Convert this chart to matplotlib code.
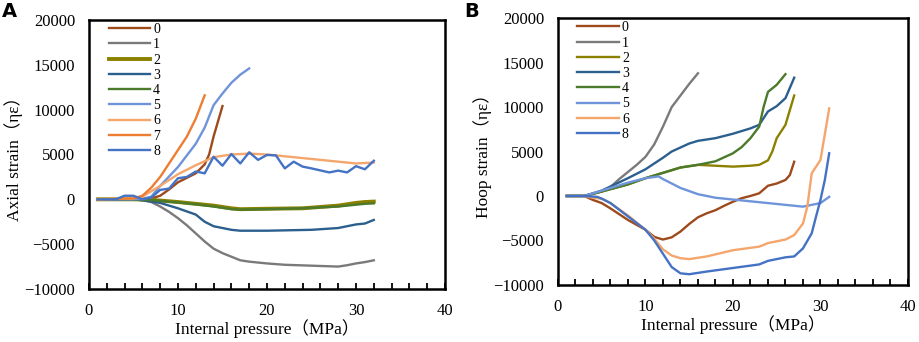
import matplotlib.pyplot as plt
from matplotlib.ticker import MultipleLocator

SERIF = ['Liberation Serif', 'Noto Sans CJK SC']

# Panel A - axial strain
a0_x = [1, 5, 6, 7, 8, 9, 10, 11, 12, 13, 13.5, 14, 14.5, 15]
a0_y = [0, 0, 0, 100, 400, 1100, 1900, 2400, 2900, 3900, 5000, 7000, 8700, 10400]
a1_x = [1, 5, 6, 7, 8, 9, 10, 11, 12, 13, 14, 15, 16, 17, 18, 20, 22, 25, 28, 29, 30, 31, 32]
a1_y = [0, 0, -100, -300, -800, -1400, -2100, -2900, -3800, -4700, -5500, -6000, -6400, -6800, -6950, -7150, -7300, -7400, -7500, -7350, -7150, -7000, -6800]
a2_x = [1, 5, 7, 10, 12, 14, 16, 17, 20, 24, 28, 30, 31, 32]
a2_y = [0, 0, -50, -300, -500, -700, -1000, -1100, -1050, -1000, -700, -400, -300, -250]
a3_x = [1, 5, 6, 8, 10, 12, 13, 14, 16, 17, 20, 25, 28, 30, 31, 32]
a3_y = [0, 0, -100, -400, -1000, -1700, -2500, -3000, -3400, -3500, -3500, -3400, -3200, -2800, -2700, -2300]
a4_x = [1, 5, 7, 10, 12, 14, 16, 17, 20, 24, 28, 30, 31, 32]
a4_y = [0, 0, -80, -350, -550, -800, -1100, -1150, -1100, -1000, -800, -600, -500, -450]
a5_x = [1, 5, 6, 7, 8, 10, 12, 13, 14, 15, 16, 17, 18]
a5_y = [0, 0, 50, 300, 1500, 3600, 6200, 8000, 10500, 11800, 13000, 13900, 14600]
a6_x = [1, 5, 6, 8, 10, 12, 14, 16, 18, 20, 22, 25, 28, 30, 32]
a6_y = [0, 100, 300, 1500, 2800, 3800, 4700, 5000, 5100, 5000, 4800, 4500, 4200, 4000, 4100]
a7_x = [1, 5, 6, 7, 8, 9, 10, 11, 12, 13]
a7_y = [0, 100, 400, 1300, 2500, 4000, 5500, 7000, 9000, 11600]
a8_x = [1, 3, 4, 5, 6, 7, 8, 9, 10, 11, 12, 13, 14, 15, 16, 17, 18, 19, 20, 21, 22, 23, 24, 25, 27, 28, 29, 30, 31, 32]
a8_y = [0, 0, 400, 400, 0, 200, 1050, 1200, 2350, 2500, 3100, 2900, 4750, 3750, 5050, 4000, 5250, 4400, 4950, 4900, 3450, 4200, 3650, 3450, 3000, 3200, 3000, 3700, 3350, 4300]

# Panel B - hoop strain
b0_x = [1, 3, 4, 5, 6, 8, 10, 11, 12, 13, 14, 15, 16, 17, 18, 19, 20, 21, 22, 23, 24, 25, 26, 26.5, 27]
b0_y = [0, 0, -450, -800, -1400, -2700, -3800, -4600, -4900, -4650, -4000, -3150, -2400, -1950, -1600, -1100, -650, -250, 0, 300, 1150, 1400, 1800, 2350, 3850]
b1_x = [1, 3, 5, 6, 7, 8, 9, 10, 11, 12, 13, 14, 15, 16]
b1_y = [0, 0, 500, 1000, 1900, 2700, 3500, 4400, 5800, 7800, 10000, 11300, 12600, 13800]
b2_x = [1, 3, 5, 8, 10, 12, 14, 16, 18, 20, 22, 23, 24, 24.5, 25, 26, 27]
b2_y = [0, 0, 500, 1300, 2000, 2600, 3200, 3500, 3400, 3300, 3400, 3500, 4000, 5000, 6500, 8000, 11300]
b3_x = [1, 3, 5, 8, 10, 12, 13, 15, 16, 18, 20, 22, 23, 24, 25, 26, 27]
b3_y = [0, 0, 600, 2000, 3000, 4300, 5000, 5900, 6200, 6500, 7000, 7600, 8000, 9500, 10100, 11000, 13300]
b4_x = [1, 3, 5, 8, 10, 12, 14, 16, 18, 20, 21, 22, 23, 23.5, 24, 25, 26]
b4_y = [0, 0, 500, 1300, 2000, 2600, 3200, 3500, 3900, 4800, 5500, 6500, 7800, 10000, 11700, 12500, 13700]
b5_x = [1, 3, 5, 8, 10, 11.5, 12, 14, 16, 18, 20, 22, 25, 28, 30, 31]
b5_y = [0, 0, 600, 1500, 2000, 2200, 1900, 900, 200, -200, -400, -600, -900, -1200, -800, -100]
b6_x = [1, 3, 4, 5, 6, 8, 10, 11, 12, 13, 14, 15, 17, 20, 23, 24, 26, 27, 28, 28.5, 29, 30, 31]
b6_y = [0, 0, -200, -300, -800, -2200, -3800, -4800, -6000, -6700, -7000, -7100, -6800, -6100, -5700, -5300, -4900, -4400, -3100, -1200, 2550, 4050, 9850]
b8_x = [1, 3, 4.5, 5, 6, 8, 10, 11, 12, 13, 14, 15, 17, 20, 23, 24, 26, 27, 28, 29, 29.5, 30, 30.5, 31]
b8_y = [0, 0, -100, -300, -800, -2300, -3800, -5000, -6500, -8000, -8700, -8800, -8500, -8100, -7700, -7300, -6900, -6800, -5900, -4200, -2300, -450, 1800, 4800]

colors = {'0': '#9E4A1C', '1': '#7A7A7A', '2': '#8C8000', '3': '#2B5F8E',
          '4': '#4B7A2B', '5': '#6F94DA', '6': '#F4A66C', '7': '#ED7D31', '8': '#4472C4'}

series_a = [('0', a0_x, a0_y), ('1', a1_x, a1_y), ('2', a2_x, a2_y), ('3', a3_x, a3_y),
            ('4', a4_x, a4_y), ('5', a5_x, a5_y), ('6', a6_x, a6_y), ('7', a7_x, a7_y),
            ('8', a8_x, a8_y)]
series_b = [('0', b0_x, b0_y), ('1', b1_x, b1_y), ('2', b2_x, b2_y), ('3', b3_x, b3_y),
            ('4', b4_x, b4_y), ('5', b5_x, b5_y), ('6', b6_x, b6_y), ('8', b8_x, b8_y)]

fig = plt.figure(figsize=(9.2, 3.42), dpi=100)
ax_a = fig.add_axes([0.0967, 0.155, 0.387, 0.7865])
ax_b = fig.add_axes([0.6065, 0.167, 0.3804, 0.780])


def style(ax, series, ylabel, thick):
    for name, x, y in series:
        lw = 2.8 if name == thick else 1.7
        ax.plot(x, y, color=colors[name], lw=lw, label=name)
    ax.set_xlim(0, 40)
    ax.set_ylim(-10000, 20000)
    ax.xaxis.set_major_locator(MultipleLocator(10))
    ax.xaxis.set_minor_locator(MultipleLocator(2))
    ax.yaxis.set_major_locator(MultipleLocator(5000))
    ax.tick_params(axis='x', which='both', direction='in', length=4, width=1.3, pad=10)
    ax.tick_params(axis='y', length=0, pad=10)
    for lab in ax.get_xticklabels() + ax.get_yticklabels():
        lab.set_family(SERIF)
        lab.set_fontsize(12)
    for sp in ax.spines.values():
        sp.set_linewidth(1.8)
    ax.set_xlabel('Internal pressure（MPa）', family=SERIF, fontsize=12.5, labelpad=0)
    ax.set_ylabel(ylabel, family=SERIF, fontsize=12.5, labelpad=1)
    ax.legend(loc='upper left', bbox_to_anchor=(0.02, 1.035), frameon=False,
              handlelength=3.0, handletextpad=0.2, labelspacing=0.16,
              prop={'family': SERIF, 'size': 10})


style(ax_a, series_a, 'Axial strain（ηε）', '2')
style(ax_b, series_b, 'Hoop strain（ηε）', None)

fig.text(0.002, 0.965, 'A', fontsize=14, fontweight='bold', family='DejaVu Sans', va='center')
fig.text(0.505, 0.965, 'B', fontsize=14, fontweight='bold', family='DejaVu Sans', va='center')

fig.savefig('out.png', dpi=100)
